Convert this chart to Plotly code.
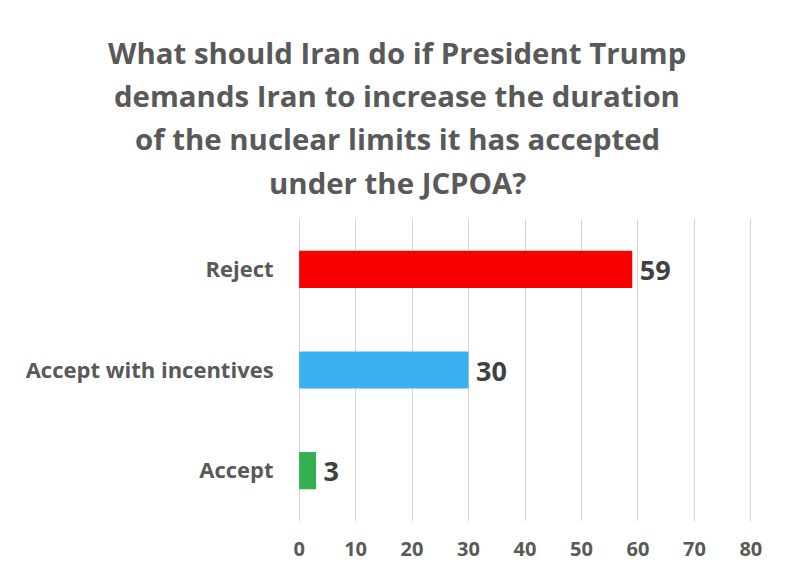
import plotly.graph_objects as go

categories = ["Accept", "Accept with incentives", "Reject"]
values = [3, 30, 59]
colors = ["#33B050", "#3BB0F0", "#F80000"]
title_lines = ["What should Iran do if President Trump",
               "demands Iran to increase the duration",
               "of the nuclear limits it has accepted",
               "under the JCPOA?"]
tick_vals = [0, 10, 20, 30, 40, 50, 60, 70, 80]

FONT = "Open Sans, Noto Sans, sans-serif"
L, T, PW, PH = 290, 211, 454, 302
fig = go.Figure(go.Bar(
    y=categories, x=values, orientation="h", width=0.37,
    marker=dict(color=colors, line=dict(width=0)),
    text=[str(v) for v in values], texttemplate="\u2009%{text}",
    textposition="outside", cliponaxis=False,
    textfont=dict(size=27, color="#404040", family=FONT, weight="bold"),
))
annotations = [
    dict(text=line, xref="paper", yref="paper", x=(389 - L) / PW, xanchor="center",
         y=1 + (T - (44.5 + i * 43.4)) / PH, yanchor="middle", showarrow=False,
         font=dict(size=29.4, color="#595959", family=FONT, weight="bold"))
    for i, line in enumerate(title_lines)
]
fig.update_layout(
    width=792, height=585, paper_bgcolor="white", plot_bgcolor="white",
    margin=dict(l=L, r=792 - L - PW, t=T, b=585 - T - PH),
    showlegend=False,
    annotations=annotations,
    xaxis=dict(range=[-0.2, 80.2], tickvals=tick_vals, showgrid=True, gridcolor="#D4D4D4", gridwidth=1,
               zeroline=False, showline=False, ticks="outside", ticklen=10, tickcolor="rgba(0,0,0,0)",
               tickfont=dict(size=20, color="#595959", family=FONT, weight="bold")),
    yaxis=dict(showgrid=False, zeroline=False, showline=False,
               ticks="outside", ticklen=19, tickcolor="rgba(0,0,0,0)",
               tickfont=dict(size=22, color="#595959", family=FONT, weight="bold")),
)
fig.write_html("out.html")
